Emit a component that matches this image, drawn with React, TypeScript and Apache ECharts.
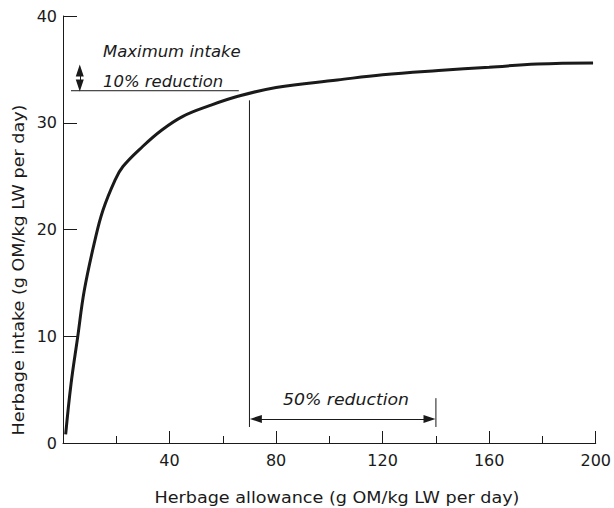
import React, { useEffect, useRef } from "react";
import * as echarts from "echarts";

// Herbage allowance (x) vs intake (y)
const allowance = [1, 3, 5.5, 8, 12, 15, 19.5, 22.5, 30, 37, 45, 55, 66, 80, 103, 120, 141, 160, 178, 199];
const intake = [0.8, 5.5, 9.9, 14.3, 19, 21.8, 24.6, 25.9, 27.8, 29.3, 30.6, 31.6, 32.5, 33.3, 34.0, 34.5, 34.9, 35.2, 35.5, 35.6];

const xLabels = [40, 80, 120, 160, 200];
const yLabels = [0, 10, 20, 30, 40];

// annotation geometry (data units)
const reductionLevel = 33.0; // 10% reduction line
const reductionLineX = [3, 66];
const maxArrowX = 6.3;
const maxArrowY = [34.9, 33.5];
const halfReductionX = [70, 140];
const halfReductionArrowX = [72.4, 137.6];
const halfReductionArrowY = 2.25;
const leftBarY = [32.1, 1.5];
const rightBarY = [4.2, 1.5];

const FONT = "DejaVu Sans";
const INK = "#1a1a1a";

export default function App() {
  const ref = useRef<HTMLDivElement>(null);
  useEffect(() => {
    if (!ref.current) return;
    document.body.style.margin = "0";
    document.body.style.overflow = "hidden";
    const chart = echarts.init(ref.current, undefined, { renderer: "svg" });
    const lineStyle = { color: INK, width: 1 };
    chart.setOption({
      animation: false,
      backgroundColor: "#ffffff",
      grid: { left: 63, right: 14, top: 16, bottom: 65 },
      xAxis: {
        type: "value",
        min: 0,
        max: 200,
        interval: 40,
        axisLine: { show: true, lineStyle: { color: INK, width: 1 } },
        axisTick: { show: true, inside: true, length: 12, lineStyle: { color: INK } },
        minorTick: { show: true, splitNumber: 2, length: 7, lineStyle: { color: INK } },
        splitLine: { show: false },
        axisLabel: {
          color: INK,
          fontFamily: FONT,
          fontSize: 16,
          margin: 9,
          formatter: (v: number) => (xLabels.includes(v) ? String(v) : ""),
        },
      },
      yAxis: {
        type: "value",
        min: 0,
        max: 40,
        interval: 10,
        axisLine: { show: true, lineStyle: { color: INK, width: 1 } },
        axisTick: { show: true, inside: true, length: 14, lineStyle: { color: INK } },
        splitLine: { show: false },
        axisLabel: {
          color: INK,
          fontFamily: FONT,
          fontSize: 16,
          margin: 6,
          formatter: (v: number) => (yLabels.includes(v) ? String(v) : ""),
        },
      },
      series: [
        {
          type: "line",
          data: allowance.map((x, i) => [x, intake[i]]),
          smooth: 0.4,
          symbol: "none",
          lineStyle: { color: INK, width: 3 },
          z: 5,
        },
        {
          type: "line",
          data: reductionLineX.map((x) => [x, reductionLevel]),
          symbol: "none",
          lineStyle,
        },
        {
          type: "line",
          data: leftBarY.map((y) => [halfReductionX[0], y]),
          symbol: "none",
          lineStyle,
        },
        {
          type: "line",
          data: rightBarY.map((y) => [halfReductionX[1], y]),
          symbol: "none",
          lineStyle,
          markLine: {
            silent: true,
            symbol: ["triangle", "triangle"],
            symbolSize: [8, 12],
            label: { show: false },
            lineStyle: { color: INK, width: 1, type: "solid" },
            itemStyle: { color: INK },
            data: [
              [
                { coord: [halfReductionArrowX[0], halfReductionArrowY] },
                { coord: [halfReductionArrowX[1], halfReductionArrowY] },
              ],
              [
                { coord: [maxArrowX, maxArrowY[0]] },
                { coord: [maxArrowX, maxArrowY[1]] },
              ],
            ],
          },
        },
      ],
      graphic: [
        {
          type: "text",
          x: 103,
          y: 52,
          scaleX: 1.03,
          style: {
            text: "Maximum intake",
            font: `italic 16px "${FONT}"`,
            fill: INK,
            textAlign: "left",
            textVerticalAlign: "middle",
          },
        },
        {
          type: "text",
          x: 103,
          y: 82,
          scaleX: 1.03,
          style: {
            text: "10% reduction",
            font: `italic 16px "${FONT}"`,
            fill: INK,
            textAlign: "left",
            textVerticalAlign: "middle",
          },
        },
        {
          type: "text",
          x: 346,
          y: 400,
          scaleX: 1.08,
          style: {
            text: "50% reduction",
            font: `italic 16px "${FONT}"`,
            fill: INK,
            textAlign: "center",
            textVerticalAlign: "middle",
          },
        },
        {
          type: "text",
          x: 337,
          y: 497,
          scaleX: 1.1,
          style: {
            text: "Herbage allowance (g OM/kg LW per day)",
            font: `16px "${FONT}"`,
            fill: INK,
            textAlign: "center",
            textVerticalAlign: "middle",
          },
        },
        {
          type: "text",
          x: 18,
          y: 270,
          rotation: Math.PI / 2,
          scaleX: 1.1,
          style: {
            text: "Herbage intake (g OM/kg LW per day)",
            font: `16px "${FONT}"`,
            fill: INK,
            textAlign: "center",
            textVerticalAlign: "middle",
          },
        },
      ],
    });
    return () => chart.dispose();
  }, []);
  return (
    <div
      ref={ref}
      style={{ position: "fixed", left: 0, top: 0, width: 614, height: 508 }}
    />
  );
}
